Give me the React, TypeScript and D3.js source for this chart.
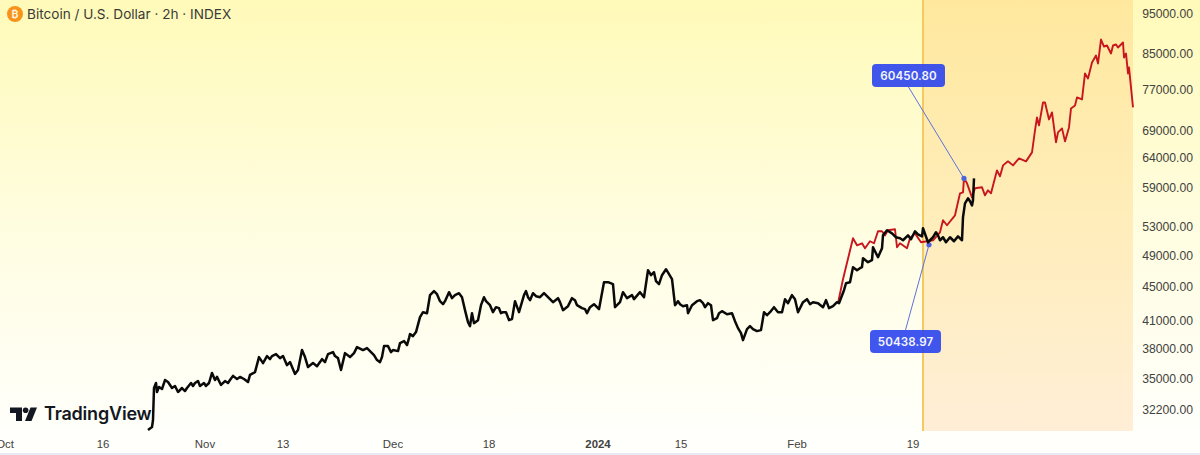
import React from "react";
import * as d3 from "d3";

// Bars are 2h steps counted from the first bar of the black series.
const blackBars = [0,8,10,12,16,18,28,34,40,48,58,60,68,78,86,94,104,112,122,128,138,146,154,164,170,178,184,200,204,214,222,230,238,248,270,284,294,300,308,314,320,330,344,354,360,370,380,386,394,404,418,430,444,458,468,472,480,490,500,504,512,518,522,524,536,544,550,558,564,578,584,594,602,614,628,634,640,648,652,660,666,676,684,690,702,710,716,722,728,734,742,752,760,770,784,800,810,820,830,848,858,868,878,884,902,912,920,930,934,944,950,958,968,984,992,1000,1012,1016,1022,1028,1036,1048,1054,1064,1078,1080,1088,1104,1114,1126,1130,1138,1142,1168,1180,1190,1198,1210,1226,1232,1244,1252,1260,1268,1274,1294,1300,1310,1330,1350,1356,1362,1378,1382,1392,1404,1410,1424,1428,1430,1448,1450,1460,1468,1470,1488,1504,1510,1520,1534,1548,1550,1560,1570,1580,1584,1596,1604,1620,1628,1630,1634,1644,1650,1652];
const blackPrices = [30404,30655,31249,34101,34570,33730,34010,34850,34660,34101,33913,33730,34101,34101,34570,34570,34290,34570,34570,35530,35150,34384,34755,34850,35250,34950,35150,34660,35350,35620,37107,36502,37210,37210,37210,36603,35440,35814,37822,37107,36110,36502,36603,36603,37410,37615,37005,35814,37512,37107,38133,37822,37718,36804,37107,38237,38237,37822,37718,38551,38762,38340,39080,39513,39729,41387,41950,41835,43945,44065,43232,43232,44307,43945,43700,42183,40825,41835,40713,41048,42760,43232,42760,41950,42413,41950,41950,41048,41161,43232,41950,43945,43700,44186,43700,43700,43114,43587,42183,43587,42760,42413,41835,42530,42298,45530,45530,45282,42530,43114,44307,43587,43945,44307,43700,47047,46790,45656,45282,46407,47176,45906,42760,42876,42760,41835,42760,43350,42530,42760,41048,41274,41835,41835,40162,38868,40052,40052,39943,41950,41950,42530,41950,41950,43468,43468,41950,43114,43114,42530,43350,42413,43114,42995,44549,45530,47435,47305,47435,48615,48349,50094,48748,49958,51743,52030,51340,51060,51743,52329,51600,52760,50782,51480,51743,51060,50782,51480,51600,51060,54367,56480,56792,56948,60472];

// Smaller swings read between the main turning points.
const blackDetailBars = [22,54,74,90,100,116,134,160,192,244,256,264,278,338,348,374,412,438,452,464,486,530,572,590,608,622,644,672,696,706,756,764,776,792,824,840,854,874,892,972,1006,1060,1070,1098,1110,1120,1148,1158,1174,1186,1204,1218,1238,1280,1288,1318,1324,1340,1370,1396,1418,1440,1478,1496,1526,1540,1576,1590,1612,1640,1648];
const blackDetailPrices = [34196,34290,33820,34290,34755,34290,34850,34570,34950,36905,37410,37005,36300,36200,36905,37210,37512,38030,37310,36603,37615,39296,44428,42876,43587,44186,40380,43700,42530,41835,44428,43350,43820,44186,43114,42645,43350,42298,42876,43468,46407,43232,42645,43232,42995,42995,42067,41720,40935,39620,40380,39836,41600,42995,43945,43468,42876,42995,42645,45400,47047,48090,52472,51480,51200,51880,52186,51480,50921,57260,56160];

const redBars = [1380,1390,1410,1418,1428,1434,1444,1452,1460,1468,1474,1480,1494,1498,1504,1518,1524,1534,1546,1570,1584,1590,1598,1614,1624,1630,1632,1638,1648,1654,1668,1674,1680,1686,1698,1704,1710,1720,1730,1742,1756,1768,1774,1778,1782,1790,1794,1802,1808,1816,1820,1828,1834,1842,1846,1854,1858,1868,1874,1880,1888,1896,1900,1906,1912,1918,1926,1930,1936,1940,1950,1952,1956,1960,1962,1970];
const redPrices = [42995,45906,51340,50365,50642,49958,50921,50642,52329,52329,51743,52472,52616,50094,50642,49958,51340,52030,50782,51060,52186,53924,53200,54665,58046,58205,60472,59650,57415,58845,59008,57730,58523,58046,61805,60803,62650,63342,62650,63863,63342,64917,68933,71422,69880,74400,74400,71033,72400,66712,68558,69311,66894,69500,73199,73800,75428,75018,80540,79441,82985,84590,82760,88360,86690,86930,85050,86930,87170,86450,87640,84120,85050,80540,81860,73390];

const priceTicks = [95000,85000,77000,69000,64000,59000,53000,49000,45000,41000,38000,35000,32200];
const timeTickBars = [-286,-90,114,270,490,682,900,1066,1298,1530];
const timeTickLabels = ["Oct","16","Nov","13","Dec","18","2024","15","Feb","19"];

const highlightStartBar = 1550;
const lastBar = 1970;
const upperNote = { bar: 1632, price: 60450.8, label: "60450.80" };
const lowerNote = { bar: 1562, price: 50438.97, label: "50438.97" };

const title = "Bitcoin / U.S. Dollar · 2h · INDEX";

const W = 1200;
const H = 455;
const plotBottom = 431;
const axisLeft = 1133;

const x = d3.scaleLinear().domain([0, lastBar]).range([148, axisLeft]);
const y = d3.scaleLog().domain([32200, 95000]).range([409, 13]);

const linePath = (points: [number, number][]) =>
  d3.line<[number, number]>()
    .x((d) => x(d[0]))
    .y((d) => y(d[1]))(points) as string;

const blackPoints = ([...d3.zip(blackBars, blackPrices), ...d3.zip(blackDetailBars, blackDetailPrices)] as [number, number][])
  .sort((a, b) => a[0] - b[0]);
const redPoints = d3.zip(redBars, redPrices) as [number, number][];

const FONT = "Inter, 'Noto Sans', sans-serif";
const AXIS_FONT = "'Liberation Sans', Arial, sans-serif";

function Note({ note, bx, by, bw }: { note: typeof upperNote; bx: number; by: number; bw: number }) {
  const px = x(note.bar);
  const py = y(note.price);
  const bh = 23;
  const anchorY = py < by ? by : by + bh;
  return (
    <g>
      <line x1={bx + bw / 2} y1={anchorY} x2={px} y2={py} stroke="#5b73dd" strokeWidth={1} />
      <circle cx={px} cy={py} r={2.6} fill="#4f63dc" />
      <rect x={bx} y={by} width={bw} height={bh} rx={4} fill="#3048ee" fillOpacity={0.92} />
      <text x={bx + bw / 2} y={by + 16} textAnchor="middle" fill="#f4f5ff" fontSize={11.6} fontWeight={600} fontFamily={FONT} letterSpacing={0.1}>
        {note.label}
      </text>
    </g>
  );
}

export default function App() {
  const hx = x(highlightStartBar);
  return (
    <svg width={W} height={H} viewBox={`0 0 ${W} ${H}`} style={{ position: "fixed", left: 0, top: 0, display: "block" }}>
      <defs>
        <linearGradient id="bg" x1="0" y1="0" x2="0" y2="1">
          <stop offset="0" stopColor="#fffab9" />
          <stop offset="0.5" stopColor="#fffde0" />
          <stop offset="0.95" stopColor="#fffffb" />
        </linearGradient>
        <linearGradient id="hl" x1="0" y1="0" x2="0" y2="1">
          <stop offset="0" stopColor="#ffe89e" />
          <stop offset="0.5" stopColor="#ffedba" />
          <stop offset="1" stopColor="#ffeed6" />
        </linearGradient>
      </defs>
      <rect x={0} y={0} width={W} height={H} fill="url(#bg)" />
      <rect x={0} y={453} width={W} height={2} fill="#e9e9f4" />
      <rect x={hx} y={0} width={axisLeft - hx} height={plotBottom} fill="url(#hl)" />
      <line x1={hx} x2={hx} y1={0} y2={plotBottom} stroke="#f4c95f" strokeWidth={2} />

      <path d={linePath(redPoints)} fill="none" stroke="#c8161f" strokeWidth={1.9} strokeLinejoin="round" />

      <Note note={upperNote} bx={872} by={64} bw={73} />
      <Note note={lowerNote} bx={870} by={330} bw={71} />

      <path d={linePath(blackPoints)} fill="none" stroke="#0a0a0a" strokeWidth={2.5} strokeLinejoin="round" />

      <circle cx={15} cy={14} r={8} fill="#f7931a" />
      <text x={15} y={18} textAnchor="middle" fontSize={10.5} fontWeight={700} fill="#fff2dc" fontFamily={FONT}>₿</text>
      <text x={27} y={19} fontSize={13.6} fill="#3a3a36" fontFamily={FONT}>{title}</text>

      {priceTicks.map((p) => (
        <text key={p} x={1193} y={y(p) + 4.5} textAnchor="end" fontSize={12.2} fill="#42423e" fontFamily={AXIS_FONT}>
          {d3.format(".2f")(p)}
        </text>
      ))}

      {timeTickBars.map((b, i) => (
        <text
          key={b}
          x={x(b)}
          y={448}
          textAnchor="middle"
          fontSize={11.4}
          fontWeight={timeTickLabels[i] === "2024" ? 700 : 400}
          fill="#42423e"
          fontFamily={AXIS_FONT}
        >
          {timeTickLabels[i]}
        </text>
      ))}

      <g fill="#131722">
        <path d="M10 407.5h12v13.5h-6v-8h-6z" />
        <circle cx={25.6} cy={410.3} r={2.8} />
        <path d="M30.5 407.5h6.5l-5.5 13.5h-6.5z" />
      </g>
      <text x={44} y={420} fontSize={18} fontWeight={600} fill="#131722" fontFamily={FONT} letterSpacing={-0.2}>TradingView</text>
    </svg>
  );
}
